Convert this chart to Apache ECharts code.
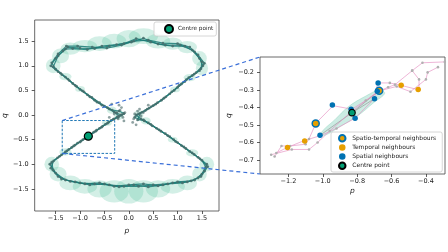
<!DOCTYPE html>
<html>
<head>
<meta charset="utf-8">
<script src="https://cdn.jsdelivr.net/npm/echarts@6/dist/echarts.min.js"></script>
<style>
html, body { margin: 0; padding: 0; background: #fff; }
#cn { width: 448px; height: 252px; }
</style>
</head>
<body>
<div id="cn"></div>
<script>
'use strict';

// left panel: three passes of the trajectory (p, q)
const TRAJ_A = [[-0.15, 0.0], [-0.25, 0.04], [-0.4, 0.12], [-0.55, 0.2], [-0.7, 0.3], [-0.85, 0.41], [-1.0, 0.52], [-1.15, 0.64], [-1.3, 0.77], [-1.45, 0.88], [-1.6, 1.0], [-1.5, 1.15], [-1.35, 1.3], [-1.25, 1.38], [-1.0, 1.36], [-0.7, 1.35], [-0.4, 1.4], [-0.1, 1.45], [0.15, 1.55], [0.45, 1.48], [0.75, 1.42], [1.05, 1.42], [1.3, 1.32], [1.45, 1.15], [1.52, 1.0], [1.38, 0.86], [1.23, 0.76], [1.08, 0.63], [0.93, 0.5], [0.76, 0.37], [0.59, 0.25], [0.42, 0.14], [0.28, 0.06], [0.15, 0.0], [0.25, -0.08], [0.4, -0.16], [0.57, -0.27], [0.75, -0.38], [0.92, -0.5], [1.08, -0.62], [1.25, -0.74], [1.42, -0.86], [1.6, -1.0], [1.5, -1.2], [1.35, -1.32], [1.1, -1.38], [0.8, -1.4], [0.5, -1.42], [0.2, -1.45], [-0.1, -1.45], [-0.4, -1.42], [-0.7, -1.4], [-1.0, -1.38], [-1.3, -1.32], [-1.5, -1.18], [-1.62, -1.0], [-1.46, -0.87], [-1.3, -0.75], [-1.17, -0.66], [-1.05, -0.57], [-0.94, -0.5], [-0.84, -0.43], [-0.72, -0.35], [-0.6, -0.27], [-0.48, -0.19], [-0.36, -0.11], [-0.24, -0.04], [-0.15, 0.0]];
const TRAJ_B = [[-0.2, -0.02], [-0.3, 0.06], [-0.44, 0.15], [-0.6, 0.25], [-0.76, 0.36], [-0.92, 0.47], [-1.07, 0.58], [-1.22, 0.7], [-1.37, 0.82], [-1.5, 0.93], [-1.58, 1.06], [-1.45, 1.24], [-1.28, 1.4], [-1.05, 1.4], [-0.75, 1.38], [-0.45, 1.36], [-0.15, 1.42], [0.1, 1.5], [0.4, 1.52], [0.7, 1.46], [1.0, 1.45], [1.25, 1.38], [1.42, 1.22], [1.55, 1.05], [1.45, 0.9], [1.3, 0.8], [1.15, 0.68], [1.0, 0.56], [0.84, 0.43], [0.67, 0.3], [0.5, 0.19], [0.34, 0.09], [0.2, 0.02], [0.12, -0.05], [0.32, -0.12], [0.48, -0.22], [0.66, -0.33], [0.84, -0.44], [1.0, -0.56], [1.17, -0.68], [1.34, -0.8], [1.5, -0.92], [1.58, -1.06], [1.55, -1.14], [1.42, -1.28], [1.2, -1.36], [0.9, -1.38], [0.6, -1.44], [0.3, -1.4], [0.0, -1.42], [-0.3, -1.45], [-0.6, -1.38], [-0.9, -1.4], [-1.2, -1.35], [-1.45, -1.25], [-1.6, -1.08], [-1.54, -0.93], [-1.38, -0.81], [-1.23, -0.7], [-1.1, -0.61], [-0.98, -0.53], [-0.88, -0.46], [-0.78, -0.39], [-0.66, -0.31], [-0.54, -0.23], [-0.42, -0.15], [-0.3, -0.08], [-0.2, -0.02]];
const TRAJ_C = [[-0.1, 0.03], [-0.2, 0.08], [-0.34, 0.1], [-0.5, 0.18], [-0.65, 0.26], [-0.8, 0.37], [-0.95, 0.49], [-1.1, 0.6], [-1.25, 0.73], [-1.4, 0.85], [-1.55, 0.98], [-1.45, 1.2], [-1.3, 1.34], [-1.15, 1.35], [-0.85, 1.33], [-0.55, 1.4], [-0.25, 1.43], [0.05, 1.48], [0.3, 1.56], [0.6, 1.44], [0.9, 1.4], [1.15, 1.4], [1.35, 1.28], [1.5, 1.08], [1.48, 0.94], [1.34, 0.83], [1.18, 0.72], [1.03, 0.6], [0.88, 0.47], [0.72, 0.34], [0.55, 0.22], [0.38, 0.12], [0.24, 0.04], [0.18, -0.1], [0.3, -0.1], [0.45, -0.19], [0.62, -0.3], [0.8, -0.42], [0.96, -0.54], [1.13, -0.65], [1.3, -0.77], [1.46, -0.89], [1.62, -1.05], [1.48, -1.25], [1.28, -1.34], [1.0, -1.36], [0.7, -1.42], [0.4, -1.46], [0.1, -1.42], [-0.2, -1.46], [-0.5, -1.4], [-0.8, -1.42], [-1.1, -1.36], [-1.38, -1.3], [-1.55, -1.12], [-1.58, -0.96], [-1.42, -0.84], [-1.27, -0.73], [-1.13, -0.63], [-1.0, -0.55], [-0.9, -0.48], [-0.8, -0.41], [-0.68, -0.33], [-0.56, -0.25], [-0.44, -0.17], [-0.32, -0.09], [-0.22, -0.05], [-0.1, 0.03]];
// slow samples piling up near the saddle
const SADDLE_DOTS = [[-0.25, 0.05], [-0.18, 0.1], [-0.12, -0.05], [-0.22, -0.08], [-0.3, 0.02], [-0.15, 0.15], [-0.08, 0.05], [-0.35, 0.22], [-0.1, -0.12], [0.12, 0.02], [0.18, 0.08], [0.25, -0.02], [0.1, -0.08], [0.3, 0.05], [0.22, 0.12], [0.15, -0.2], [0.4, 0.2], [0.46, 0.17], [-0.4, -0.05], [-0.2, 0.2], [0.08, -0.15]];

// uncertainty blobs: p, q, width, height (data units)
const BLOBS = [[-1.55, 1.0, 0.3, 0.3], [-1.4, 1.2, 0.35, 0.3], [-1.2, 1.35, 0.4, 0.25], [-0.9, 1.4, 0.5, 0.25], [-0.6, 1.45, 0.5, 0.3], [-0.3, 1.5, 0.5, 0.3], [0.0, 1.55, 0.5, 0.35], [0.3, 1.6, 0.6, 0.32], [0.6, 1.5, 0.5, 0.3], [0.9, 1.45, 0.4, 0.25], [1.2, 1.38, 0.4, 0.25], [1.45, 1.15, 0.3, 0.3], [1.5, 0.95, 0.25, 0.3],
	[-1.58, -1.0, 0.3, 0.3], [-1.45, -1.2, 0.35, 0.3], [-1.2, -1.38, 0.45, 0.3], [-0.9, -1.45, 0.5, 0.3], [-0.6, -1.5, 0.5, 0.35], [-0.3, -1.55, 0.6, 0.45], [0.0, -1.55, 0.6, 0.5], [0.3, -1.55, 0.6, 0.45], [0.6, -1.5, 0.5, 0.35], [0.9, -1.45, 0.5, 0.3], [1.2, -1.38, 0.4, 0.3], [1.45, -1.2, 0.3, 0.3], [1.6, -1.0, 0.3, 0.3],
	[-1.3, 0.78, 0.25, 0.15], [-1.0, 0.53, 0.2, 0.12], [-0.35, 0.1, 0.2, 0.15], [0.95, 0.52, 0.2, 0.12], [1.25, 0.76, 0.25, 0.15], [0.35, -0.12, 0.2, 0.15], [0.9, -0.5, 0.2, 0.12], [1.3, -0.77, 0.25, 0.15], [-1.3, -0.75, 0.25, 0.15], [-0.45, -0.16, 0.2, 0.12], [-0.2, 0.0, 0.2, 0.2], [0.2, 0.0, 0.2, 0.2]];

const CENTRE = [-0.83, -0.43];
const ZOOM_P = [-1.365, -0.289]; // zoom window
const ZOOM_Q = [-0.78, -0.112];

// right panel
const PATH_1 = [[-0.29, -0.14], [-0.42, -0.145], [-0.48, -0.19], [-0.44, -0.24], [-0.44, -0.30], [-0.54, -0.275], [-0.61, -0.26], [-0.68, -0.26], [-0.70, -0.35], [-0.81, -0.46], [-0.92, -0.52], [-1.01, -0.56], [-1.11, -0.59], [-1.21, -0.63], [-1.27, -0.66]];
const PATH_2 = [[-0.33, -0.17], [-0.39, -0.2], [-0.40, -0.24], [-0.49, -0.31], [-0.57, -0.28], [-0.67, -0.305], [-0.75, -0.36], [-0.83, -0.41], [-0.94, -0.39], [-1.04, -0.49], [-1.08, -0.58], [-1.1, -0.61], [-1.19, -0.62], [-1.24, -0.62], [-1.28, -0.68]];
const PATH_3 = [[-0.48, -0.19], [-0.58, -0.27], [-0.62, -0.285], [-0.68, -0.31], [-0.84, -0.43], [-0.96, -0.535], [-1.03, -0.6], [-1.08, -0.64], [-1.18, -0.64], [-1.3, -0.67]];
const HULL = [[-1.01, -0.545], [-0.93, -0.47], [-0.85, -0.395], [-0.75, -0.335], [-0.67, -0.3], [-0.64, -0.32], [-0.7, -0.37], [-0.8, -0.45], [-0.9, -0.51], [-0.99, -0.56]];
const SPATIO_TEMPORAL = [[-1.041, -0.491], [-0.672, -0.305]];
const TEMPORAL = [[-1.205, -0.628], [-1.105, -0.592], [-0.544, -0.274], [-0.445, -0.297]];
const SPATIAL = [[-0.678, -0.261], [-0.699, -0.35], [-0.944, -0.386], [-0.835, -0.411], [-0.812, -0.462], [-1.016, -0.559], [-0.683, -0.308]];

const TICKS_L = [-1.5, -1.0, -0.5, 0.0, 0.5, 1.0, 1.5];
const TICKS_RX = [-1.2, -1.0, -0.8, -0.6, -0.4];
const TICKS_RY = [-0.7, -0.6, -0.5, -0.4, -0.3, -0.2];

const C_ORANGE = '#E69F00';
const C_BLUE = '#0072B2';
const C_GREEN = '#009E73';
const FONT = 'DejaVu Sans';

const fmt = v => (v < 0 ? '\u2212' : '') + Math.abs(v).toFixed(1);

const mkAxis = (grid, min, max, ticks, name, isY) => ({
	type: 'value',
	gridIndex: grid,
	min: min,
	max: max,
	name: name,
	nameLocation: 'middle',
	nameGap: isY ? (grid === 0 ? 25 : 27) : 13,
	nameRotate: isY ? 90 : 0,
	nameTextStyle: { fontFamily: FONT, fontSize: 7.5, fontStyle: 'italic', color: '#222' },
	axisLine: { show: false, onZero: false },
	axisTick: { show: true, length: 3, customValues: ticks, lineStyle: { color: '#333', width: 0.8 } },
	axisLabel: { customValues: ticks, formatter: fmt, fontFamily: FONT, fontSize: 6.5, color: '#222', margin: isY ? 6 : 4 },
	splitLine: { show: false }
});

const trajSeries = data => ({
	type: 'line',
	xAxisIndex: 0,
	yAxisIndex: 0,
	data: data,
	symbol: 'circle',
	symbolSize: 2.8,
	itemStyle: { color: 'rgba(70,110,108,0.85)' },
	lineStyle: { color: '#1a7a76', width: 1.2, opacity: 0.85 },
	z: 3
});

const pathSeries = data => ({
	type: 'line',
	xAxisIndex: 1,
	yAxisIndex: 1,
	data: data,
	symbol: 'circle',
	symbolSize: 2.6,
	itemStyle: { color: '#b0b0b0' },
	lineStyle: { color: 'rgba(228,140,192,0.8)', width: 0.8 },
	z: 3
});

const ptSeries = (name, data, fill, border, bw, size) => ({
	name: name,
	type: 'scatter',
	xAxisIndex: 1,
	yAxisIndex: 1,
	data: data,
	symbolSize: size,
	itemStyle: { color: fill, borderColor: border, borderWidth: bw, opacity: 1 },
	z: 6
});

const legendBase = {
	icon: 'circle',
	borderColor: '#ccc',
	borderWidth: 0.8,
	borderRadius: 2,
	backgroundColor: 'rgba(255,255,255,0.85)',
	textStyle: { fontFamily: FONT, fontSize: 6, color: '#222', lineHeight: 8 }
};

// spokes from the centre point to its neighbours
const spokes = [CENTRE, SPATIAL[5], '-', CENTRE, SPATIO_TEMPORAL[1], '-', CENTRE, SPATIAL[1]];

let chart = echarts.init(document.getElementById('cn'), null, { renderer: 'canvas' });

chart.setOption({
	animation: false,
	grid: [
		{ left: 32, top: 20, width: 187, height: 191, show: true, borderColor: '#444', borderWidth: 0.8, backgroundColor: 'transparent' },
		{ left: 260, top: 57, width: 185, height: 117, show: true, borderColor: '#444', borderWidth: 0.8, backgroundColor: 'transparent' }
	],
	xAxis: [
		mkAxis(0, -1.93, 1.85, TICKS_L, 'p', false),
		mkAxis(1, ZOOM_P[0], ZOOM_P[1], TICKS_RX, 'p', false)
	],
	yAxis: [
		mkAxis(0, -1.95, 1.93, TICKS_L, 'q', true),
		mkAxis(1, ZOOM_Q[0], ZOOM_Q[1], TICKS_RY, 'q', true)
	],
	legend: [Object.assign({}, legendBase, {
		data: ['Centre point'],
		left: 154,
		top: 22,
		itemWidth: 8,
		itemHeight: 8,
		padding: [2, 3, 2, 10],
		textStyle: { fontFamily: FONT, fontSize: 5.7, color: '#222', lineHeight: 8 }
	}), Object.assign({}, legendBase, {
		data: ['Spatio-temporal neighbours', 'Temporal neighbours', 'Spatial neighbours', 'Centre point'],
		orient: 'vertical',
		left: 331,
		top: 132,
		itemWidth: 10,
		itemHeight: 6.5,
		itemGap: 1,
		padding: [2, 6, 2, 7]
	})],
	series: [{
		type: 'custom',
		xAxisIndex: 0,
		yAxisIndex: 0,
		data: BLOBS,
		renderItem: (params, api) => {
			const c = api.coord([api.value(0), api.value(1)]);
			const s = api.size([api.value(2), api.value(3)]);
			return {
				type: 'circle',
				x: c[0],
				y: c[1],
				scaleX: s[0] / 2,
				scaleY: s[1] / 2,
				shape: { cx: 0, cy: 0, r: 1 },
				style: { fill: 'rgba(70,190,152,0.24)' }
			};
		},
		z: 1
	},
	trajSeries(TRAJ_A), trajSeries(TRAJ_B), trajSeries(TRAJ_C),
	{
		type: 'scatter',
		xAxisIndex: 0,
		yAxisIndex: 0,
		data: SADDLE_DOTS,
		symbolSize: 2.8,
		itemStyle: { color: 'rgba(80,110,110,0.8)' },
		z: 3
	}, {
		type: 'line',
		xAxisIndex: 0,
		yAxisIndex: 0,
		data: [[ZOOM_P[0], ZOOM_Q[1]], [ZOOM_P[1], ZOOM_Q[1]], [ZOOM_P[1], ZOOM_Q[0]], [ZOOM_P[0], ZOOM_Q[0]], [ZOOM_P[0], ZOOM_Q[1]]],
		symbol: 'none',
		lineStyle: { color: '#1f77b4', width: 1, type: [2.5, 1.5] },
		z: 5
	}, {
		name: 'Centre point',
		type: 'scatter',
		xAxisIndex: 0,
		yAxisIndex: 0,
		data: [CENTRE],
		symbolSize: 8,
		itemStyle: { color: C_GREEN, borderColor: '#000', borderWidth: 1.2, opacity: 1 },
		z: 6
	}, {
		type: 'custom',
		xAxisIndex: 1,
		yAxisIndex: 1,
		data: [0],
		renderItem: (params, api) => ({
			type: 'polygon',
			shape: { points: HULL.map(pt => api.coord(pt)), smooth: 0.4 },
			style: { fill: 'rgba(0,158,115,0.2)', stroke: 'rgba(0,158,115,0.3)', lineWidth: 0.5 }
		}),
		z: 1
	}, {
		type: 'line',
		xAxisIndex: 1,
		yAxisIndex: 1,
		data: spokes,
		symbol: 'none',
		lineStyle: { color: '#9a9a9a', width: 0.7 },
		z: 2
	},
	pathSeries(PATH_1), pathSeries(PATH_2), pathSeries(PATH_3),
	ptSeries('Spatio-temporal neighbours', SPATIO_TEMPORAL, C_ORANGE, C_BLUE, 1.5, 7),
	ptSeries('Temporal neighbours', TEMPORAL, C_ORANGE, C_ORANGE, 0, 5.5),
	ptSeries('Spatial neighbours', SPATIAL, C_BLUE, C_BLUE, 0, 5.5),
	ptSeries('Centre point', [CENTRE], C_GREEN, '#000', 1.2, 6.5)
	]
});

// zoom connectors from the dashed box to the inset frame
const a0 = chart.convertToPixel({ gridIndex: 0 }, [ZOOM_P[0], ZOOM_Q[1]]);
const a1 = chart.convertToPixel({ gridIndex: 1 }, [ZOOM_P[0], ZOOM_Q[1]]);
const b0 = chart.convertToPixel({ gridIndex: 0 }, [ZOOM_P[0], ZOOM_Q[0]]);
const b1 = chart.convertToPixel({ gridIndex: 1 }, [ZOOM_P[0], ZOOM_Q[0]]);

const connStyle = { stroke: '#3a6fd8', lineWidth: 1.2, lineDash: [4, 3] };

chart.setOption({
	graphic: [
		{ type: 'line', shape: { x1: a0[0], y1: a0[1], x2: a1[0], y2: a1[1] }, style: connStyle, z: 10 },
		{ type: 'line', shape: { x1: b0[0], y1: b0[1], x2: b1[0], y2: b1[1] }, style: connStyle, z: 10 }
	]
});
</script>
</body>
</html>
